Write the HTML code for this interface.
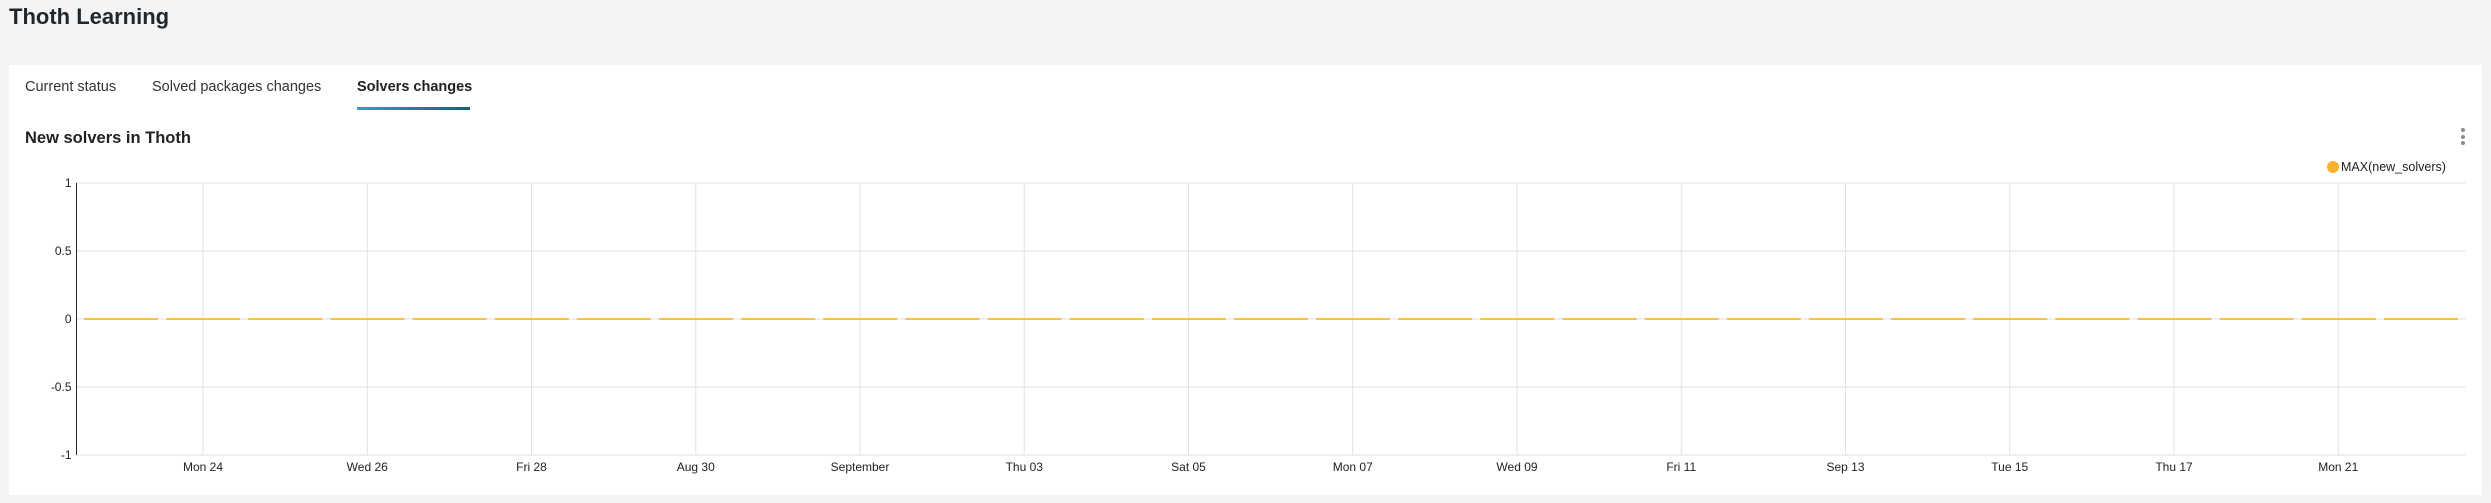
<!DOCTYPE html>
<html><head><meta charset="utf-8"><style>
body{margin:0;width:2491px;height:503px;background:#f4f4f4;font-family:"Liberation Sans",sans-serif;position:relative;overflow:hidden;color:#151515}
.abs{position:absolute;white-space:nowrap}
</style></head><body>
<div class="abs" style="left:9px;top:4px;font-size:22px;font-weight:bold;color:#1f262c">Thoth Learning</div>
<div class="abs" style="left:9px;top:65px;width:2473px;height:430px;background:#fff"></div>
<div class="abs" style="left:25px;top:79px;font-size:14.5px;color:#333">Current status</div>
<div class="abs" style="left:152px;top:79px;font-size:14.5px;color:#333">Solved packages changes</div>
<div class="abs" style="left:357px;top:79px;font-size:14.5px;font-weight:bold;color:#222">Solvers changes</div>
<div class="abs" style="left:357px;top:107px;width:113px;height:3px;background:linear-gradient(90deg,#2aa4c4,#1b5f72)"></div>
<div class="abs" style="left:25px;top:129px;font-size:16.5px;font-weight:bold;color:#222">New solvers in Thoth</div>
<div class="abs" style="left:2461px;top:128px;width:4px;">
<div style="width:4px;height:4px;border-radius:2px;background:#8a8d90;margin-bottom:2.5px"></div><div style="width:4px;height:4px;border-radius:2px;background:#8a8d90;margin-bottom:2.5px"></div><div style="width:4px;height:4px;border-radius:2px;background:#8a8d90"></div></div>
<div class="abs" style="left:2327px;top:160px;font-size:12.5px;color:#222;display:flex;align-items:center">
<span style="display:inline-block;width:12px;height:12px;border-radius:6px;background:#fbb12f;margin-right:2px"></span>MAX(new_solvers)</div>
<svg id="chart" width="2491" height="503" style="position:absolute;left:0;top:0" font-family="Liberation Sans, sans-serif"></svg>
<script>
const xLabels=["Mon 24","Wed 26","Fri 28","Aug 30","September","Thu 03","Sat 05","Mon 07","Wed 09","Fri 11","Sep 13","Tue 15","Thu 17","Mon 21"];
const yTicks=[1,0.5,0,-0.5,-1];
const values=[0,0,0,0,0,0,0,0,0,0,0,0,0,0,0,0,0,0,0,0,0,0,0,0,0,0,0,0,0];
const svg=document.getElementById('chart');
const NS='http://www.w3.org/2000/svg';
const L=76.5,R=2466,T=183,B=455;
const SL=80,SR=2462;
const y=v=>T+(1-v)/2*(B-T);
const xt=i=>203+i*164.25;
const band=(SR-SL)/values.length;
function mk(tag,attrs){const e=document.createElementNS(NS,tag);for(const k in attrs)e.setAttribute(k,attrs[k]);svg.appendChild(e);return e;}
yTicks.forEach(v=>{
 const g=mk('line',{x1:L,x2:R,y1:y(v),y2:y(v),stroke:'#e2e2e2','stroke-width':1});
 
 
 const t=mk('text',{x:L-5,y:y(v)+4,'text-anchor':'end','font-size':12,fill:'#222'});
 t.textContent=v;
 
 
});
xLabels.forEach((s,i)=>{
 const g=mk('line',{x1:xt(i),x2:xt(i),y1:T,y2:B,stroke:'#e2e2e2','stroke-width':1});
 
 
 const t=mk('text',{x:xt(i),y:B+16,'text-anchor':'middle','font-size':12,fill:'#222'});
 t.textContent=s;
 
 
});
const ax=mk('line',{x1:L,x2:L,y1:T,y2:B,stroke:'#222','stroke-width':1});


values.forEach((v,i)=>{
 const x0=SL+i*band+4,x1=SL+(i+1)*band-4;
 const s=mk('line',{x1:x0,x2:x1,y1:y(v),y2:y(v),stroke:'#fbc04a','stroke-width':2});
 
 
});
</script>
</body></html>
